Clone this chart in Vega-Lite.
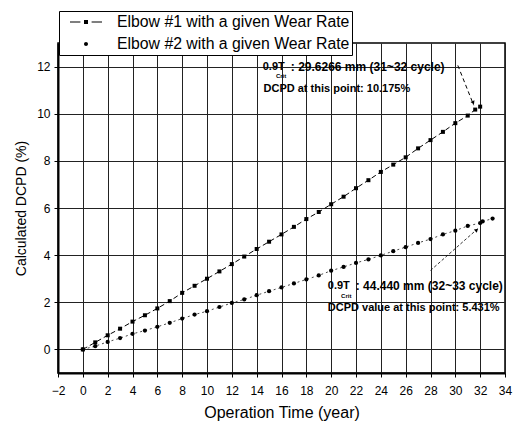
{
  "$schema": "https://vega.github.io/schema/vega-lite/v6.json",
  "width": 447,
  "height": 330,
  "autosize": {"type": "none"},
  "padding": {"left": 58, "top": 43, "right": 12, "bottom": 52},
  "background": "white",
  "config": {
    "font": "Liberation Sans",
    "view": {"stroke": "black", "strokeWidth": 1.5},
    "axis": {
      "domainColor": "black",
      "domainWidth": 2,
      "tickColor": "black",
      "labelColor": "black",
      "titleColor": "black",
      "labelFont": "Liberation Sans",
      "titleFont": "Liberation Sans",
      "titleFontWeight": "normal",
      "labelFontSize": 12,
      "grid": true,
      "gridColor": "#222222",
      "gridOpacity": 1,
      "gridWidth": 1
    }
  },
  "datasets": {
    "curves": [
      {"year": 0, "dcpd": 0, "series": "Elbow #1 with a given Wear Rate"},
      {"year": 1, "dcpd": 0.3, "series": "Elbow #1 with a given Wear Rate"},
      {"year": 2, "dcpd": 0.6, "series": "Elbow #1 with a given Wear Rate"},
      {"year": 3, "dcpd": 0.88, "series": "Elbow #1 with a given Wear Rate"},
      {"year": 4, "dcpd": 1.18, "series": "Elbow #1 with a given Wear Rate"},
      {"year": 5, "dcpd": 1.45, "series": "Elbow #1 with a given Wear Rate"},
      {"year": 6, "dcpd": 1.74, "series": "Elbow #1 with a given Wear Rate"},
      {"year": 7, "dcpd": 2.05, "series": "Elbow #1 with a given Wear Rate"},
      {"year": 8, "dcpd": 2.4, "series": "Elbow #1 with a given Wear Rate"},
      {"year": 9, "dcpd": 2.7, "series": "Elbow #1 with a given Wear Rate"},
      {"year": 10, "dcpd": 3.0, "series": "Elbow #1 with a given Wear Rate"},
      {"year": 11, "dcpd": 3.31, "series": "Elbow #1 with a given Wear Rate"},
      {"year": 12, "dcpd": 3.62, "series": "Elbow #1 with a given Wear Rate"},
      {"year": 13, "dcpd": 3.94, "series": "Elbow #1 with a given Wear Rate"},
      {"year": 14, "dcpd": 4.26, "series": "Elbow #1 with a given Wear Rate"},
      {"year": 15, "dcpd": 4.57, "series": "Elbow #1 with a given Wear Rate"},
      {"year": 16, "dcpd": 4.88, "series": "Elbow #1 with a given Wear Rate"},
      {"year": 17, "dcpd": 5.2, "series": "Elbow #1 with a given Wear Rate"},
      {"year": 18, "dcpd": 5.53, "series": "Elbow #1 with a given Wear Rate"},
      {"year": 19, "dcpd": 5.83, "series": "Elbow #1 with a given Wear Rate"},
      {"year": 20, "dcpd": 6.16, "series": "Elbow #1 with a given Wear Rate"},
      {"year": 21, "dcpd": 6.48, "series": "Elbow #1 with a given Wear Rate"},
      {"year": 22, "dcpd": 6.84, "series": "Elbow #1 with a given Wear Rate"},
      {"year": 23, "dcpd": 7.18, "series": "Elbow #1 with a given Wear Rate"},
      {"year": 24, "dcpd": 7.53, "series": "Elbow #1 with a given Wear Rate"},
      {"year": 25, "dcpd": 7.84, "series": "Elbow #1 with a given Wear Rate"},
      {"year": 26, "dcpd": 8.15, "series": "Elbow #1 with a given Wear Rate"},
      {"year": 27, "dcpd": 8.53, "series": "Elbow #1 with a given Wear Rate"},
      {"year": 28, "dcpd": 8.88, "series": "Elbow #1 with a given Wear Rate"},
      {"year": 29, "dcpd": 9.23, "series": "Elbow #1 with a given Wear Rate"},
      {"year": 30, "dcpd": 9.6, "series": "Elbow #1 with a given Wear Rate"},
      {"year": 31, "dcpd": 9.92, "series": "Elbow #1 with a given Wear Rate"},
      {"year": 31.6, "dcpd": 10.175, "series": "Elbow #1 with a given Wear Rate"},
      {"year": 32, "dcpd": 10.3, "series": "Elbow #1 with a given Wear Rate"},
      {"year": 0, "dcpd": 0, "series": "Elbow #2 with a given Wear Rate"},
      {"year": 1, "dcpd": 0.14, "series": "Elbow #2 with a given Wear Rate"},
      {"year": 2, "dcpd": 0.32, "series": "Elbow #2 with a given Wear Rate"},
      {"year": 3, "dcpd": 0.48, "series": "Elbow #2 with a given Wear Rate"},
      {"year": 4, "dcpd": 0.66, "series": "Elbow #2 with a given Wear Rate"},
      {"year": 5, "dcpd": 0.8, "series": "Elbow #2 with a given Wear Rate"},
      {"year": 6, "dcpd": 0.96, "series": "Elbow #2 with a given Wear Rate"},
      {"year": 7, "dcpd": 1.13, "series": "Elbow #2 with a given Wear Rate"},
      {"year": 8, "dcpd": 1.31, "series": "Elbow #2 with a given Wear Rate"},
      {"year": 9, "dcpd": 1.48, "series": "Elbow #2 with a given Wear Rate"},
      {"year": 10, "dcpd": 1.62, "series": "Elbow #2 with a given Wear Rate"},
      {"year": 11, "dcpd": 1.8, "series": "Elbow #2 with a given Wear Rate"},
      {"year": 12, "dcpd": 1.97, "series": "Elbow #2 with a given Wear Rate"},
      {"year": 13, "dcpd": 2.12, "series": "Elbow #2 with a given Wear Rate"},
      {"year": 14, "dcpd": 2.3, "series": "Elbow #2 with a given Wear Rate"},
      {"year": 15, "dcpd": 2.47, "series": "Elbow #2 with a given Wear Rate"},
      {"year": 16, "dcpd": 2.63, "series": "Elbow #2 with a given Wear Rate"},
      {"year": 17, "dcpd": 2.8, "series": "Elbow #2 with a given Wear Rate"},
      {"year": 18, "dcpd": 2.97, "series": "Elbow #2 with a given Wear Rate"},
      {"year": 19, "dcpd": 3.14, "series": "Elbow #2 with a given Wear Rate"},
      {"year": 20, "dcpd": 3.34, "series": "Elbow #2 with a given Wear Rate"},
      {"year": 21, "dcpd": 3.5, "series": "Elbow #2 with a given Wear Rate"},
      {"year": 22, "dcpd": 3.67, "series": "Elbow #2 with a given Wear Rate"},
      {"year": 23, "dcpd": 3.82, "series": "Elbow #2 with a given Wear Rate"},
      {"year": 24, "dcpd": 3.99, "series": "Elbow #2 with a given Wear Rate"},
      {"year": 25, "dcpd": 4.17, "series": "Elbow #2 with a given Wear Rate"},
      {"year": 26, "dcpd": 4.34, "series": "Elbow #2 with a given Wear Rate"},
      {"year": 27, "dcpd": 4.52, "series": "Elbow #2 with a given Wear Rate"},
      {"year": 28, "dcpd": 4.68, "series": "Elbow #2 with a given Wear Rate"},
      {"year": 29, "dcpd": 4.88, "series": "Elbow #2 with a given Wear Rate"},
      {"year": 30, "dcpd": 5.04, "series": "Elbow #2 with a given Wear Rate"},
      {"year": 31, "dcpd": 5.24, "series": "Elbow #2 with a given Wear Rate"},
      {"year": 32, "dcpd": 5.36, "series": "Elbow #2 with a given Wear Rate"},
      {"year": 32.2, "dcpd": 5.431, "series": "Elbow #2 with a given Wear Rate"},
      {"year": 33, "dcpd": 5.55, "series": "Elbow #2 with a given Wear Rate"}
    ],
    "notes": [
      {"x": 14.49, "y": 12.0, "text": "0.9T"},
      {"x": 14.55, "y": 11.04, "text": "DCPD at this point: 10.175%"},
      {"x": 19.73, "y": 2.68, "text": "0.9T"},
      {"x": 19.73, "y": 1.75, "text": "DCPD value at this point: 5.431%"}
    ],
    "notes2": [
      {"x": 16.75, "y": 12.0, "text": ": 29.6266 mm (31~32 cycle)"},
      {"x": 21.98, "y": 2.68, "text": ": 44.440 mm (32~33 cycle)"}
    ],
    "subs": [
      {"x": 15.55, "y": 11.6, "text": "Crit"},
      {"x": 20.8, "y": 2.27, "text": "Crit"}
    ],
    "arrow1": [
      {"x": 30.2, "y": 12.05, "x2": 31.48, "y2": 10.36}
    ],
    "arrow2": [
      {"x": 28.0, "y": 3.35, "x2": 31.8, "y2": 5.12}
    ],
    "heads": [
      {"x": 31.44, "y": 10.46, "angle": 158},
      {"x": 31.72, "y": 5.07, "angle": 48}
    ]
  },
  "encoding": {
    "x": {
      "field": "year",
      "type": "quantitative",
      "scale": {"domain": [-2, 34], "nice": false, "zero": false},
      "axis": {
        "title": "Operation Time (year)",
        "titleFontSize": 16,
        "titlePadding": 8,
        "grid": true,
        "values": [-2,0,2,4,6,8,10,12,14,16,18,20,22,24,26,28,30,32,34],
        "labelOverlap": false,
        "labelFlush": false,
        "labelPadding": 8,
        "tickSize": 4
      }
    },
    "y": {
      "field": "dcpd",
      "type": "quantitative",
      "scale": {"domain": [-1, 13], "nice": false, "zero": false},
      "axis": {
        "title": "Calculated DCPD (%)",
        "titleFontSize": 14,
        "titlePadding": 8,
        "grid": true,
        "values": [0,2,4,6,8,10,12],
        "labelOverlap": false,
        "labelFlush": false,
        "labelPadding": 4,
        "tickSize": 4
      }
    }
  },
  "layer": [
    {
      "data": {"name": "curves"},
      "transform": [{"filter": "datum.series === 'Elbow #1 with a given Wear Rate'"}],
      "mark": {"type": "line", "color": "black", "strokeWidth": 1, "strokeDash": [5, 3]}
    },
    {
      "data": {"name": "curves"},
      "transform": [{"filter": "datum.series === 'Elbow #1 with a given Wear Rate'"}],
      "mark": {"type": "square", "color": "black", "size": 16, "opacity": 1}
    },
    {
      "data": {"name": "curves"},
      "transform": [{"filter": "datum.series === 'Elbow #2 with a given Wear Rate'"}],
      "mark": {"type": "line", "color": "#333", "strokeWidth": 0.9, "strokeDash": [2, 3]}
    },
    {
      "data": {"name": "curves"},
      "transform": [{"filter": "datum.series === 'Elbow #2 with a given Wear Rate'"}],
      "mark": {"type": "circle", "color": "black", "size": 18, "opacity": 1}
    },
    {
      "data": {"name": "arrow1"},
      "mark": {"type": "rule", "color": "black", "strokeWidth": 1, "strokeDash": [4, 3]},
      "encoding": {
        "x": {"field": "x", "type": "quantitative"},
        "y": {"field": "y", "type": "quantitative"},
        "x2": {"field": "x2"},
        "y2": {"field": "y2"}
      }
    },
    {
      "data": {"name": "arrow2"},
      "mark": {"type": "rule", "color": "black", "strokeWidth": 0.8, "strokeDash": [3, 2]},
      "encoding": {
        "x": {"field": "x", "type": "quantitative"},
        "y": {"field": "y", "type": "quantitative"},
        "x2": {"field": "x2"},
        "y2": {"field": "y2"}
      }
    },
    {
      "data": {"name": "heads"},
      "mark": {"type": "point", "shape": "triangle-up", "filled": true, "color": "black", "size": 18, "opacity": 1},
      "encoding": {
        "x": {"field": "x", "type": "quantitative"},
        "y": {"field": "y", "type": "quantitative"},
        "angle": {"field": "angle", "type": "quantitative", "scale": null}
      }
    },
    {
      "data": {"name": "notes"},
      "mark": {"type": "text", "align": "left", "baseline": "middle", "fontSize": 11, "fontWeight": "bold", "color": "black"},
      "encoding": {
        "x": {"field": "x", "type": "quantitative"},
        "y": {"field": "y", "type": "quantitative"},
        "text": {"field": "text"}
      }
    },
    {
      "data": {"name": "notes2"},
      "mark": {"type": "text", "align": "left", "baseline": "middle", "fontSize": 12, "fontWeight": "bold", "color": "black"},
      "encoding": {
        "x": {"field": "x", "type": "quantitative"},
        "y": {"field": "y", "type": "quantitative"},
        "text": {"field": "text"}
      }
    },
    {
      "data": {"name": "subs"},
      "mark": {"type": "text", "align": "left", "baseline": "middle", "fontSize": 6, "fontWeight": "bold", "color": "black"},
      "encoding": {
        "x": {"field": "x", "type": "quantitative"},
        "y": {"field": "y", "type": "quantitative"},
        "text": {"field": "text"}
      }
    },
    {
      "data": {"name": "curves"},
      "mark": {"type": "point", "filled": true, "color": "black", "opacity": 0},
      "encoding": {
        "shape": {
          "field": "series",
          "type": "nominal",
          "scale": {
            "domain": ["Elbow #1 with a given Wear Rate", "Elbow #2 with a given Wear Rate"],
            "range": [
              "M-1,-0.0375H-0.35V0.0375H-1Z M-0.125,-0.125H0.125V0.125H-0.125Z M0.35,-0.0375H1V0.0375H0.35Z",
              "M-0.125,0A0.125,0.125 0 1,0 0.125,0A0.125,0.125 0 1,0 -0.125,0Z"
            ]
          },
          "legend": {
            "orient": "none",
            "legendX": 1,
            "legendY": -32,
            "title": null,
            "labelFontSize": 15.8,
            "labelFont": "Liberation Sans",
            "labelColor": "black",
            "labelLimit": 400,
            "symbolSize": 1024,
            "clipHeight": 18,
            "symbolFillColor": "black",
            "symbolStrokeColor": "black",
            "symbolStrokeWidth": 0,
            "symbolOpacity": 1,
            "symbolOffset": 9,
            "labelOffset": 15,
            "padding": 2,
            "rowPadding": 4,
            "strokeColor": "black",
            "fillColor": "white",
            "zindex": 2
          }
        }
      }
    }
  ]
}
